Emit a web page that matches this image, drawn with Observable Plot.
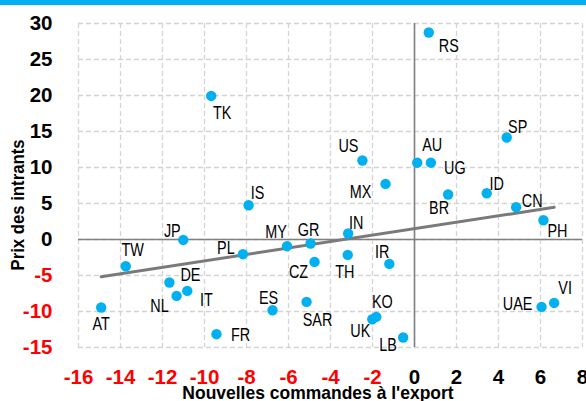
<!DOCTYPE html>
<html>
<head>
<meta charset="utf-8">
<script src="https://cdn.jsdelivr.net/npm/d3@7"></script>
<script src="https://cdn.jsdelivr.net/npm/@observablehq/plot@0.6"></script>
<style>
  html, body { margin: 0; padding: 0; background: #fff; }
  #wrap { position: relative; width: 586px; height: 401px; overflow: hidden; }
  #bar { position: absolute; left: 0; top: 0; width: 586px; height: 5px; background: #00b0f0; }
</style>
</head>
<body>
<div id="wrap"><div id="chart"></div><div id="bar"></div></div>
<script>
// Country codes, new export orders (x) and input prices (y)
const countries = ["RS","TK","SP","US","AU","UG","MX","ID","BR","CN","PH","IS","IN","JP","GR","MY","PL","TH","CZ","IR","TW","DE","IT","NL","AT","SAR","ES","FR","KO","UK","LB","UAE","VI"];
const exportOrders = [0.68,-9.68,4.39,-2.48,0.13,0.78,-1.38,3.44,1.60,4.84,6.14,-7.90,-3.16,-11.01,-4.95,-6.07,-8.17,-3.18,-4.76,-1.20,-13.75,-11.67,-10.82,-11.33,-14.92,-5.14,-6.76,-9.43,-1.82,-2.01,-0.54,6.05,6.65];
const inputPrices  = [28.75,19.94,14.17,10.97,10.67,10.67,7.72,6.43,6.25,4.49,2.68,4.76,0.83,-0.06,-0.56,-0.93,-2.04,-2.14,-3.11,-3.39,-3.71,-5.97,-7.14,-7.83,-9.44,-8.67,-9.82,-13.15,-10.75,-11.07,-13.61,-9.36,-8.81];
const xTicks = [-16,-14,-12,-10,-8,-6,-4,-2,0,2,4,6,8];
const yTicks = [-15,-10,-5,0,5,10,15,20,25,30];
const xTitle = "Nouvelles commandes à l'export";
const yTitle = "Prix des intrants";

// label placement (pixel offsets from each dot)
const labelOffset = {
  RS:[20,14], TK:[11,17], SP:[11,-10], US:[-14,-14], AU:[15,-17], UG:[24,6],
  MX:[-25,8], ID:[10,-9], BR:[-9,14], CN:[16,-6], PH:[14,11], IS:[9,-12],
  IN:[8,-10], JP:[-11,-9], GR:[-2,-13], MY:[-11,-14], PL:[-17,-6], TH:[-3,17],
  CZ:[-16,10], IR:[-7,-12], TW:[7,-16], DE:[21,-7], IT:[19,9], NL:[-17,10],
  AT:[0,17], SAR:[11,18], ES:[-4,-12], FR:[24,1], KO:[6,-15], UK:[-12,12],
  LB:[-15,8], UAE:[-24,-3], VI:[11,-15]
};

const data = countries.map((c, i) => ({code: c, x: exportOrders[i], y: inputPrices[i]}));

const font = "'Liberation Sans',Arial,sans-serif";
const cyan = "#00b0f0";
const grey = "#808080";

const labelMarks = data.map(d => Plot.text([d], {
  x: "x", y: "y", text: "code",
  dx: labelOffset[d.code][0], dy: labelOffset[d.code][1],
  fontSize: 18, fill: "#000", className: "ptlabel"
}));

const chart = Plot.plot({
  width: 586,
  height: 401,
  marginLeft: 78,
  marginRight: 4,
  marginTop: 23,
  marginBottom: 54,
  style: {fontFamily: font, background: "transparent", overflow: "visible"},
  x: {domain: [-16, 8], axis: null},
  y: {domain: [-15, 30], axis: null},
  marks: [
    Plot.gridX(xTicks, {stroke: "#d4d4d4", strokeOpacity: 1, strokeWidth: 1.3, strokeDasharray: "5,3"}),
    Plot.gridY(yTicks, {stroke: "#d4d4d4", strokeOpacity: 1, strokeWidth: 1.3, strokeDasharray: "5,3"}),
    Plot.ruleX([0], {stroke: grey, strokeWidth: 1.6}),
    Plot.ruleY([0], {stroke: grey, strokeWidth: 1.6}),
    Plot.linearRegressionY(data, {x: "x", y: "y", stroke: "#7a7a7a", strokeWidth: 3, ci: 0}),
    Plot.dot(data, {x: "x", y: "y", r: 5.2, fill: cyan, stroke: "none"}),
    ...labelMarks,
    Plot.axisX({ticks: xTicks.filter(d => d < 0), tickSize: 0, tickPadding: 22, fontSize: 20.5, fontWeight: "bold", fill: "#ff0000", label: null, tickFormat: d => String(d)}),
    Plot.axisX({ticks: xTicks.filter(d => d >= 0), tickSize: 0, tickPadding: 22, fontSize: 20.5, fontWeight: "bold", fill: "#000", label: null, tickFormat: d => String(d)}),
    Plot.axisY({ticks: yTicks.filter(d => d < 0), tickSize: 0, tickPadding: 26, fontSize: 20.5, fontWeight: "bold", fill: "#ff0000", label: null, tickFormat: d => String(d)}),
    Plot.axisY({ticks: yTicks.filter(d => d >= 0), tickSize: 0, tickPadding: 26, fontSize: 20.5, fontWeight: "bold", fill: "#000", label: null, tickFormat: d => String(d)})
  ]
});
document.getElementById("chart").appendChild(chart);

const svg = d3.select(chart);
// axis titles
svg.append("text")
  .attr("class", "xtitle")
  .attr("x", 318).attr("y", 399)
  .attr("text-anchor", "middle")
  .attr("font-size", 19).attr("font-weight", "bold").attr("fill", "#000")
  .text(xTitle);
svg.append("text")
  .attr("class", "ytitle")
  .attr("transform", "translate(24,205) rotate(-90)")
  .attr("text-anchor", "middle")
  .attr("font-size", 19).attr("font-weight", "bold").attr("fill", "#000")
  .text(yTitle);

// condense text horizontally like the original narrow face
function condense(sel, k) {
  sel.each(function() {
    const w = this.getComputedTextLength();
    if (w > 0) {
      this.setAttribute("textLength", (w * k).toFixed(2));
      this.setAttribute("lengthAdjust", "spacingAndGlyphs");
    }
  });
}
condense(svg.selectAll(".ptlabel text"), 0.8);
condense(svg.selectAll("text.xtitle"), 0.92);
condense(svg.selectAll("text.ytitle"), 0.88);
</script>
</body>
</html>
